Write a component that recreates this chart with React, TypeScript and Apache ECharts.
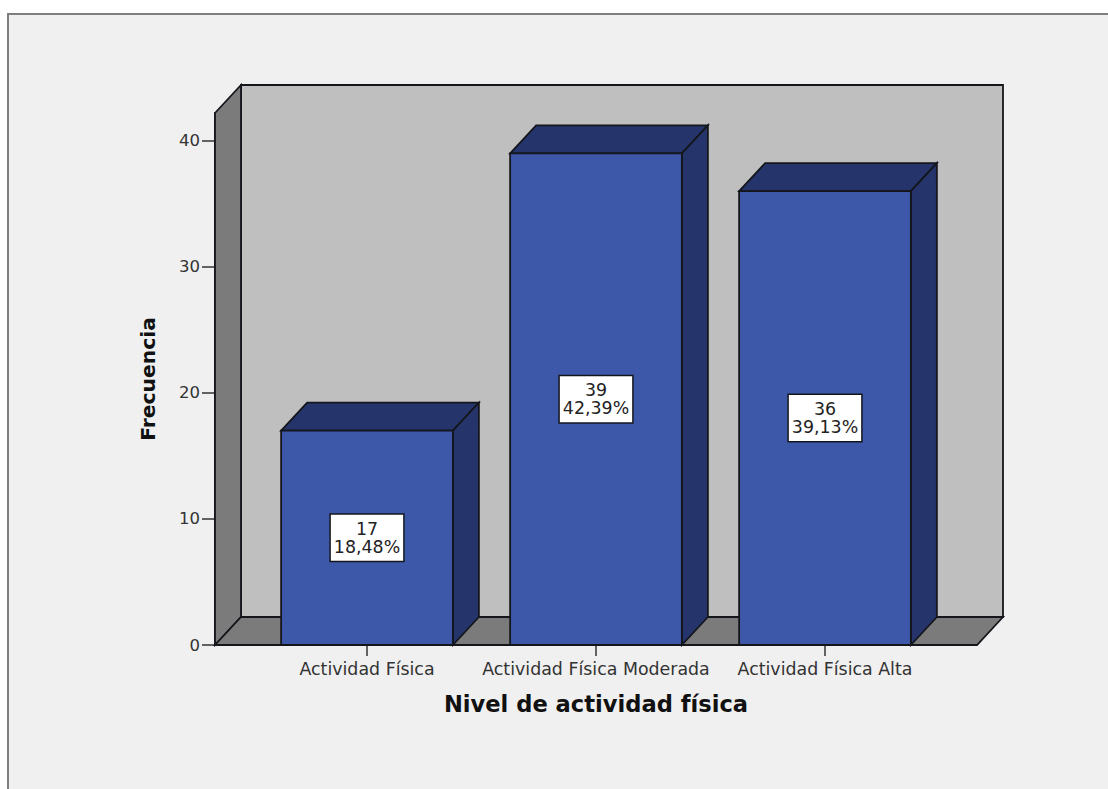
import React, { useEffect, useRef } from "react";
import * as echarts from "echarts";

// Nivel de actividad física: frecuencias y porcentajes
const categories = ["Actividad Física", "Actividad Física Moderada", "Actividad Física Alta"];
const frequencies = [17, 39, 36];
const percentages = ["18,48%", "42,39%", "39,13%"];
const yTicks = [0, 10, 20, 30, 40];
const yAxisTop = 42.2;

const depthX = 26;
const depthY = 28;
const edge = "#14161c";
const edgeWidth = 1.8;
const tickFont = "DejaVu Sans";

const chamberItem = (params: any, api: any) => {
  const cs = params.coordSys;
  const pad = 37.5;
  const left = cs.x - pad;
  const right = cs.x + cs.width + pad;
  const bottom = api.coord([0, 0])[1];
  const top = api.coord([0, yAxisTop])[1];
  const style = (fill: string) => ({ fill, stroke: edge, lineWidth: edgeWidth });
  return {
    type: "group",
    children: [
      {
        type: "polygon",
        shape: { points: [[left + depthX, top - depthY], [right + depthX, top - depthY], [right + depthX, bottom - depthY], [left + depthX, bottom - depthY]] },
        style: style("#bfbfbf"),
      },
      {
        type: "polygon",
        shape: { points: [[left, top], [left + depthX, top - depthY], [left + depthX, bottom - depthY], [left, bottom]] },
        style: style("#7b7b7b"),
      },
      {
        type: "polygon",
        shape: { points: [[left, bottom], [left + depthX, bottom - depthY], [right + depthX, bottom - depthY], [right, bottom]] },
        style: style("#7b7b7b"),
      },
    ],
  };
};

const barItem = (params: any, api: any) => {
  const [cx, yTop] = api.coord([api.value(0), api.value(1)]);
  const yBase = api.coord([api.value(0), 0])[1];
  const half = (api.size([1, 0])[0] * 0.75) / 2;
  const l = cx - half;
  const r = cx + half;
  const style = (fill: string) => ({ fill, stroke: edge, lineWidth: edgeWidth });
  return {
    type: "group",
    children: [
      {
        type: "polygon",
        shape: { points: [[l, yTop], [l + depthX, yTop - depthY], [r + depthX, yTop - depthY], [r, yTop]] },
        style: style("#25356b"),
      },
      {
        type: "polygon",
        shape: { points: [[r, yTop], [r + depthX, yTop - depthY], [r + depthX, yBase - depthY], [r, yBase]] },
        style: style("#25356b"),
      },
      {
        type: "polygon",
        shape: { points: [[l, yTop], [r, yTop], [r, yBase], [l, yBase]] },
        style: style("#3d58a8"),
      },
      {
        type: "text",
        style: {
          x: cx,
          y: (yTop + yBase) / 2,
          text: `${api.value(1)}\n${percentages[params.dataIndex]}`,
          align: "center",
          verticalAlign: "middle",
          fill: "#222222",
          fontFamily: tickFont,
          fontSize: 17.4,
          lineHeight: 18,
          backgroundColor: "#ffffff",
          borderColor: edge,
          borderWidth: 1.5,
          padding: [5, 3, 5, 3],
        },
      },
    ],
  };
};

export default function App() {
  const ref = useRef<HTMLDivElement>(null);

  useEffect(() => {
    const chart = echarts.init(ref.current!, undefined, { renderer: "svg" });
    chart.setOption({
      animation: false,
      backgroundColor: "#ffffff",
      graphic: [
        { type: "rect", z: -10, shape: { x: 8, y: 14, width: 1100, height: 775 }, style: { fill: "#f0f0f0" } },
        {
          type: "polyline",
          z: -9,
          shape: { points: [[8, 789], [8, 14], [1108, 14]] },
          style: { fill: "none", stroke: "#7f7f7f", lineWidth: 2 },
        },
      ],
      grid: { left: 252.5, top: 113, width: 687, height: 532 },
      xAxis: {
        type: "category",
        data: categories,
        name: "Nivel de actividad física",
        nameLocation: "middle",
        nameGap: 47,
        nameTextStyle: { fontFamily: tickFont, fontWeight: "bold", fontSize: 22.6, color: "#111111" },
        axisLine: { show: false },
        axisTick: { show: true, alignWithLabel: true, length: 11, lineStyle: { color: "#333333", width: 1.5 } },
        axisLabel: { margin: 15, fontFamily: tickFont, fontSize: 17.4, color: "#333333", interval: 0 },
      },
      yAxis: {
        type: "value",
        min: 0,
        max: yAxisTop,
        interval: 10,
        offset: 37.5,
        name: "Frecuencia",
        nameLocation: "middle",
        nameGap: 57,
        nameTextStyle: { fontFamily: tickFont, fontWeight: "bold", fontSize: 20.3, color: "#111111" },
        splitLine: { show: false },
        axisLine: { show: true, lineStyle: { color: edge, width: 1.8 } },
        axisTick: { show: true, length: 13, customValues: yTicks, lineStyle: { color: "#333333", width: 1.5 } },
        axisLabel: { margin: 15, fontFamily: tickFont, fontSize: 16.5, color: "#333333", customValues: yTicks },
      },
      series: [
        { type: "custom", z: 1, silent: true, clip: false, renderItem: chamberItem, data: [[0, 0]], encode: { x: 0, y: 1 } },
        {
          type: "custom",
          z: 2,
          silent: true,
          clip: false,
          renderItem: barItem,
          data: frequencies.map((v, i) => [i, v]),
          encode: { x: 0, y: 1 },
        },
      ],
    });
    return () => chart.dispose();
  }, []);

  return <div ref={ref} style={{ position: "fixed", left: 0, top: 0, width: 1108, height: 789 }} />;
}
